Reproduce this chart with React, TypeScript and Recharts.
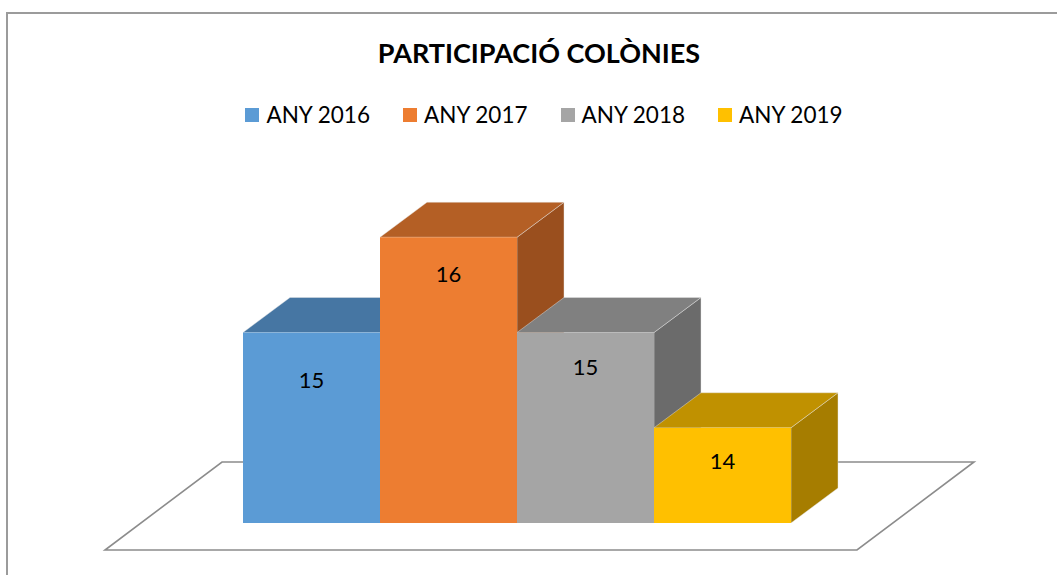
import React from 'react';
import { BarChart, Bar, XAxis, YAxis, Legend, LabelList, ReferenceArea } from 'recharts';

// ---- data ----
const chartTitle = 'PARTICIPACIÓ COLÒNIES';
const categories = ['COLÒNIES'];
const seriesKeys = ['y2016', 'y2017', 'y2018', 'y2019'];
const seriesNames = ['ANY 2016', 'ANY 2017', 'ANY 2018', 'ANY 2019'];
const values2016 = [15];
const values2017 = [16];
const values2018 = [15];
const values2019 = [14];
const yDomain = [13, 17];

// ---- styles ----
const frontColors = ['#5B9BD5', '#ED7D31', '#A5A5A5', '#FFC000'];
const topColors = ['#4676A3', '#B45F25', '#808080', '#C09100'];
const sideColors = ['#3B658A', '#9A4F1E', '#6B6B6B', '#A67D00'];
const labelDrops = [55, 45, 42, 41];
const DEPTH_X = 47;
const DEPTH_Y = 35;
const FONT = "Lato, 'Open Sans', sans-serif";

const seriesValues = [values2016, values2017, values2018, values2019];
const data = categories.map((c, i) => {
  const row: Record<string, any> = { category: c };
  seriesKeys.forEach((k, j) => {
    row[k] = seriesValues[j][i];
  });
  return row;
});

const makeShape = (idx: number) => (props: any) => {
  const { x, y, width, height } = props;
  if (x == null || y == null) return <g />;
  const edge = { stroke: '#e6e6e6', strokeOpacity: 0.55, strokeWidth: 0.8 };
  return (
    <g>
      <polygon
        points={`${x + width},${y} ${x + width + DEPTH_X},${y - DEPTH_Y} ${x + width + DEPTH_X},${y + height - DEPTH_Y} ${x + width},${y + height}`}
        fill={sideColors[idx]}
        {...edge}
      />
      <polygon
        points={`${x},${y} ${x + width},${y} ${x + width + DEPTH_X},${y - DEPTH_Y} ${x + DEPTH_X},${y - DEPTH_Y}`}
        fill={topColors[idx]}
        {...edge}
      />
      <rect x={x} y={y} width={width} height={height} fill={frontColors[idx]} />
    </g>
  );
};

const makeLabel = (idx: number) => (props: any) => {
  const vb = props.viewBox || {};
  const x = props.x ?? vb.x;
  const y = props.y ?? vb.y;
  const width = props.width ?? vb.width;
  if (x == null || y == null) return null;
  return (
    <text
      x={x + width / 2}
      y={y + labelDrops[idx]}
      textAnchor="middle"
      fontFamily={FONT}
      fontSize={22}
      fill="#000"
    >
      {props.value}
    </text>
  );
};

const renderFloor = (props: any) => {
  const { x, y, width, height } = props;
  const yb = y + height;
  const pts = [
    [x - 36, yb + 27],
    [x + width - 36, yb + 27],
    [x + width + 81, yb - 61],
    [x + 81, yb - 61],
  ]
    .map((p) => p.join(','))
    .join(' ');
  return <polygon points={pts} fill="#ffffff" stroke="#8c8c8c" strokeWidth={1.6} />;
};

const renderLegend = (props: any) => {
  const payload = props.payload || [];
  return (
    <div
      style={{
        display: 'flex',
        justifyContent: 'center',
        alignItems: 'center',
        gap: 33,
        fontFamily: FONT,
        fontSize: 22.5,
        lineHeight: '22px',
        height: 22,
        color: '#000',
      }}
    >
      {payload.map((entry: any, i: number) => (
        <div key={i} style={{ display: 'flex', alignItems: 'center' }}>
          <span
            style={{
              display: 'inline-block',
              width: 14,
              height: 14,
              background: entry.color,
              marginRight: 7,
            }}
          />
          <span style={{ whiteSpace: 'nowrap' }}>{entry.value}</span>
        </div>
      ))}
    </div>
  );
};

export default function App() {
  return (
    <div
      style={{
        position: 'absolute',
        left: 0,
        top: 0,
        width: 1057,
        height: 575,
        overflow: 'hidden',
        background: '#ffffff',
      }}
    >
      <div
        style={{
          position: 'absolute',
          left: 6,
          top: 12,
          width: 1200,
          height: 700,
          borderLeft: '2px solid #9b9b9b',
          borderTop: '2px solid #9b9b9b',
        }}
      />
      <div style={{ position: 'absolute', left: 0, top: 0 }}>
        <BarChart
          width={1057}
          height={575}
          data={data}
          margin={{ top: 142, right: 164, bottom: 52, left: 141 }}
          barCategoryGap={102}
          barGap={0}
        >
          <XAxis dataKey="category" hide />
          <YAxis hide domain={yDomain} allowDataOverflow />
          <ReferenceArea y1={yDomain[0]} y2={yDomain[1]} shape={renderFloor} ifOverflow="visible" />
          <Legend
            layout="horizontal"
            verticalAlign="middle"
            align="center"
            wrapperStyle={{ left: 0, top: 104, width: 1088 }}
            content={renderLegend}
          />
          {seriesKeys.map((k, i) => (
            <Bar
              key={k}
              dataKey={k}
              name={seriesNames[i]}
              fill={frontColors[i]}
              shape={makeShape(i)}
              isAnimationActive={false}
            >
              <LabelList dataKey={k} content={makeLabel(i)} />
            </Bar>
          ))}
        </BarChart>
      </div>
      <svg
        width={1057}
        height={80}
        style={{ position: 'absolute', left: 0, top: 0, pointerEvents: 'none' }}
      >
        <text
          x={539}
          y={63}
          textAnchor="middle"
          fontFamily={FONT}
          fontWeight={700}
          fontSize={27}
          fill="#000"
        >
          {chartTitle}
        </text>
      </svg>
    </div>
  );
}
